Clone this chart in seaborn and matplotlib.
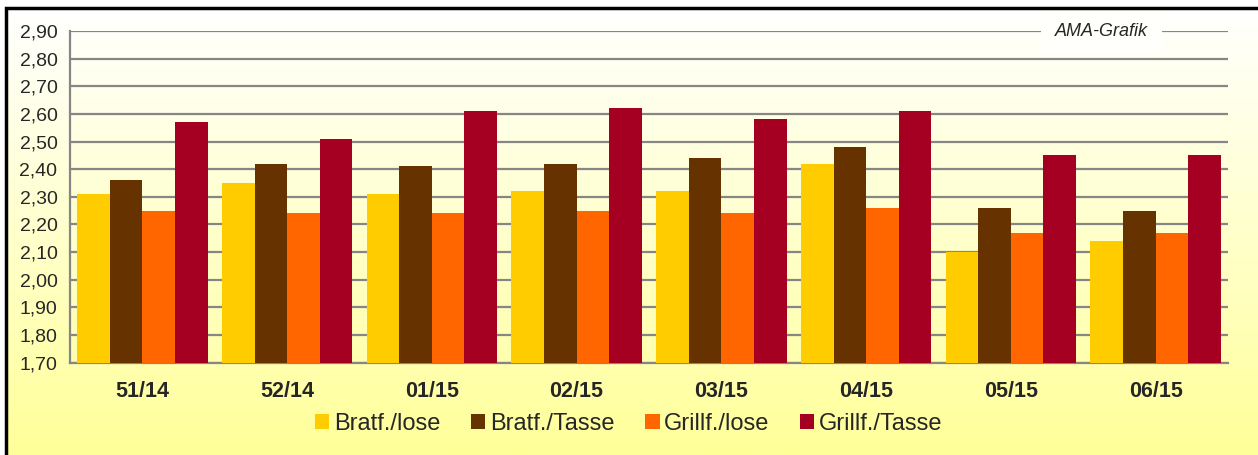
import numpy as np
import pandas as pd
import matplotlib
matplotlib.use("Agg")
import matplotlib.pyplot as plt
from matplotlib.colors import LinearSegmentedColormap
from matplotlib.patches import Rectangle
import seaborn as sns

# data
weeks = ["51/14", "52/14", "01/15", "02/15", "03/15", "04/15", "05/15", "06/15"]
series = ["Bratf./lose", "Bratf./Tasse", "Grillf./lose", "Grillf./Tasse"]
bratf_lose = [2.31, 2.35, 2.31, 2.32, 2.32, 2.42, 2.10, 2.14]
bratf_tasse = [2.36, 2.42, 2.41, 2.42, 2.44, 2.48, 2.26, 2.25]
grillf_lose = [2.25, 2.24, 2.24, 2.25, 2.24, 2.26, 2.17, 2.17]
grillf_tasse = [2.57, 2.51, 2.61, 2.62, 2.58, 2.61, 2.45, 2.45]
colors = ["#FFCC00", "#663300", "#FF6600", "#A50021"]

y_ticks = np.round(np.arange(1.70, 2.901, 0.10), 2)

df = pd.DataFrame({
    "week": weeks * 4,
    "series": np.repeat(series, len(weeks)),
    "price": bratf_lose + bratf_tasse + grillf_lose + grillf_tasse,
})

sns.set_style("white")
plt.rcParams["font.family"] = ["Liberation Sans", "DejaVu Sans"]

fig = plt.figure(figsize=(12.58, 4.55), dpi=100)

# gradient background of the chart area
bg = fig.add_axes([6 / 1258, 0, 1 - 6 / 1258, 1 - 8 / 455])
bg.set_axis_off()
cmap = LinearSegmentedColormap.from_list("bg", ["#FFFFFF", "#FFFF99"])
bg.imshow(np.linspace(0, 1, 256).reshape(-1, 1), aspect="auto", cmap=cmap,
          extent=[0, 1, 0, 1])
fig.patches.append(Rectangle((6 / 1258, -0.05), 1.1, 1.05 - 8 / 455,
                             transform=fig.transFigure, fill=False,
                             edgecolor="black", linewidth=2.5, zorder=5))

ax = fig.add_axes([70 / 1258, 1 - 362.7 / 455, (1228 - 70) / 1258,
                   (362.7 - 31) / 455])
ax.set_facecolor("none")

sns.barplot(data=df, x="week", y="price", hue="series", order=weeks,
            hue_order=series, palette=colors, width=0.9, gap=0,
            saturation=1, linewidth=0, ax=ax, zorder=3)

ax.set_ylim(1.70, 2.90)
ax.set_xlim(-0.5, len(weeks) - 0.5)
ax.set_yticks(y_ticks)
ax.set_yticklabels([f"{v:.2f}".replace(".", ",") for v in y_ticks],
                   fontsize=14)
ax.yaxis.grid(True, color="#868686", linewidth=1.6, zorder=0)
ax.set_axisbelow(True)

ax.set_xticks(range(len(weeks)))
ax.set_xticklabels(weeks, fontsize=15.5, fontweight="bold")
ax.set_xticks(np.arange(-0.5, len(weeks), 1), minor=True)
ax.tick_params(axis="x", which="major", length=0, pad=13)
ax.tick_params(axis="x", which="minor", length=6, color="#868686", width=1.6,
               direction="out")
ax.tick_params(axis="y", length=6, color="#868686", width=1.6,
               direction="out", pad=3)
ax.set_xlabel("")
ax.set_ylabel("")

for side in ["top", "right"]:
    ax.spines[side].set_visible(False)
for side in ["left", "bottom"]:
    ax.spines[side].set_color("#868686")
    ax.spines[side].set_linewidth(1.6)

handles, labels = ax.get_legend_handles_labels()
ax.get_legend().remove()
fig.legend(handles, labels, loc="center", bbox_to_anchor=(0.5, 1 - 424 / 455),
           ncol=4, frameon=False, fontsize=17, handlelength=0.6,
           handleheight=0.6, handletextpad=0.2, columnspacing=1.3)

ax.text(0.891, 1.0, "AMA-Grafik", transform=ax.transAxes, ha="center",
        va="center", fontsize=13, style="italic", zorder=6,
        bbox=dict(facecolor="#FFFFFB", edgecolor="none", pad=10))

fig.savefig("out.png", dpi=100)
